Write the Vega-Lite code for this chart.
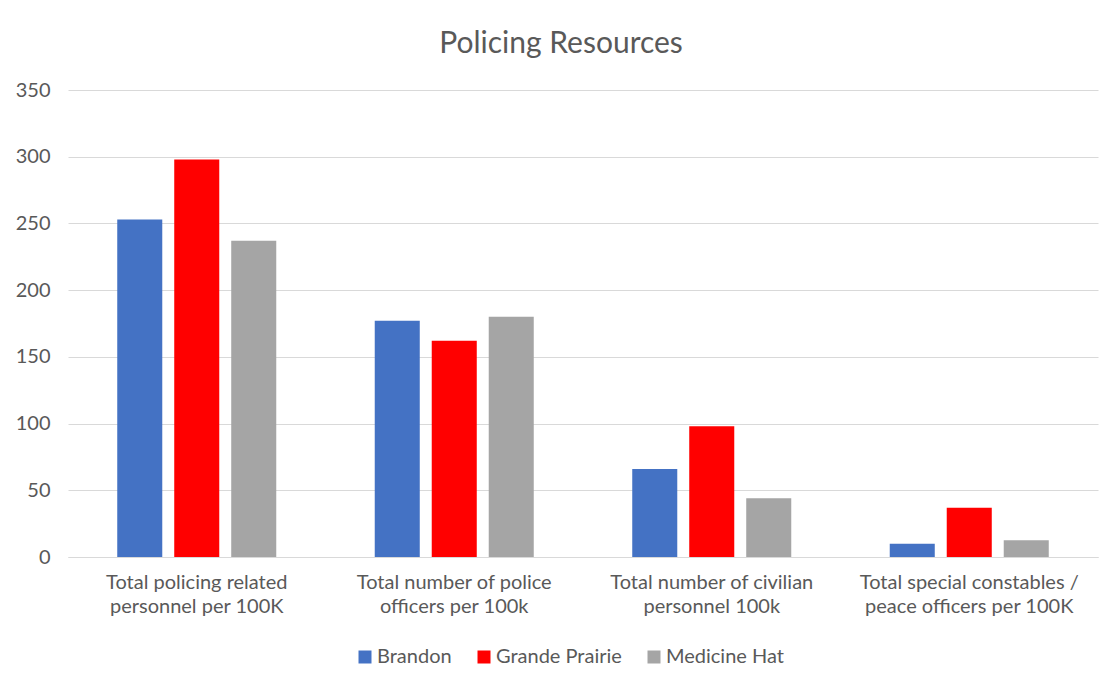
{
  "$schema": "https://vega.github.io/schema/vega-lite/v6.json",
  "width": 1030,
  "height": 467,
  "autosize": {"type": "none"},
  "padding": {"left": 68, "top": 90, "right": 22, "bottom": 135},
  "background": "white",
  "title": {
    "text": "Policing Resources",
    "font": "Lato",
    "fontSize": 30,
    "fontWeight": "normal",
    "color": "#595959",
    "anchor": "middle",
    "dx": -22,
    "baseline": "alphabetic",
    "offset": -3
  },
  "data": {
    "values": [
      {"category": "Total policing related personnel per 100K", "city": "Brandon", "value": 253},
      {"category": "Total policing related personnel per 100K", "city": "Grande Prairie", "value": 298},
      {"category": "Total policing related personnel per 100K", "city": "Medicine Hat", "value": 237},
      {"category": "Total number of police officers per 100k", "city": "Brandon", "value": 177},
      {"category": "Total number of police officers per 100k", "city": "Grande Prairie", "value": 162},
      {"category": "Total number of police officers per 100k", "city": "Medicine Hat", "value": 180},
      {"category": "Total number of civilian personnel 100k", "city": "Brandon", "value": 66},
      {"category": "Total number of civilian personnel 100k", "city": "Grande Prairie", "value": 98},
      {"category": "Total number of civilian personnel 100k", "city": "Medicine Hat", "value": 44},
      {"category": "Total special constables / peace officers per 100K", "city": "Brandon", "value": 10},
      {"category": "Total special constables / peace officers per 100K", "city": "Grande Prairie", "value": 37},
      {"category": "Total special constables / peace officers per 100K", "city": "Medicine Hat", "value": 12.5}
    ]
  },
  "mark": {"type": "bar"},
  "encoding": {
    "x": {
      "field": "category",
      "type": "nominal",
      "sort": null,
      "scale": {"paddingInner": 0, "paddingOuter": 0},
      "axis": {
        "title": null,
        "labelAngle": 0,
        "labelFont": "Lato",
        "labelFontSize": 20,
        "labelColor": "#595959",
        "labelPadding": 15,
        "labelLineHeight": 24,
        "labelBaseline": "top",
        "labelLimit": 400,
        "ticks": false,
        "domainColor": "#d9d9d9",
        "domainWidth": 1,
        "grid": false,
        "labelExpr": "datum.label == 'Total policing related personnel per 100K' ? ['Total policing related', 'personnel per 100K'] : datum.label == 'Total number of police officers per 100k' ? ['Total number of police', 'officers per 100k'] : datum.label == 'Total number of civilian personnel 100k' ? ['Total number of civilian', 'personnel 100k'] : ['Total special constables /', 'peace officers per 100K']"
      }
    },
    "xOffset": {
      "field": "city",
      "type": "nominal",
      "scale": {"paddingInner": 0.21, "paddingOuter": 0.864}
    },
    "y": {
      "field": "value",
      "type": "quantitative",
      "scale": {"domain": [0, 350]},
      "axis": {
        "title": null,
        "values": [0, 50, 100, 150, 200, 250, 300, 350],
        "labelFont": "Lato",
        "labelFontSize": 20,
        "labelColor": "#595959",
        "labelPadding": 18,
        "ticks": false,
        "domain": false,
        "gridColor": "#d9d9d9",
        "gridWidth": 1
      }
    },
    "color": {
      "field": "city",
      "type": "nominal",
      "scale": {
        "domain": ["Brandon", "Grande Prairie", "Medicine Hat"],
        "range": ["#4472C4", "#FF0000", "#A5A5A5"]
      },
      "legend": {
        "title": null,
        "orient": "none",
        "direction": "horizontal",
        "legendX": 287,
        "legendY": 557,
        "symbolType": "square",
        "symbolSize": 169,
        "symbolStrokeWidth": 0,
        "labelFont": "Lato",
        "labelFontSize": 20,
        "labelColor": "#595959",
        "columnPadding": 22,
        "labelOffset": 2,
        "labelLimit": 300
      }
    }
  },
  "config": {
    "view": {"stroke": null}
  }
}
